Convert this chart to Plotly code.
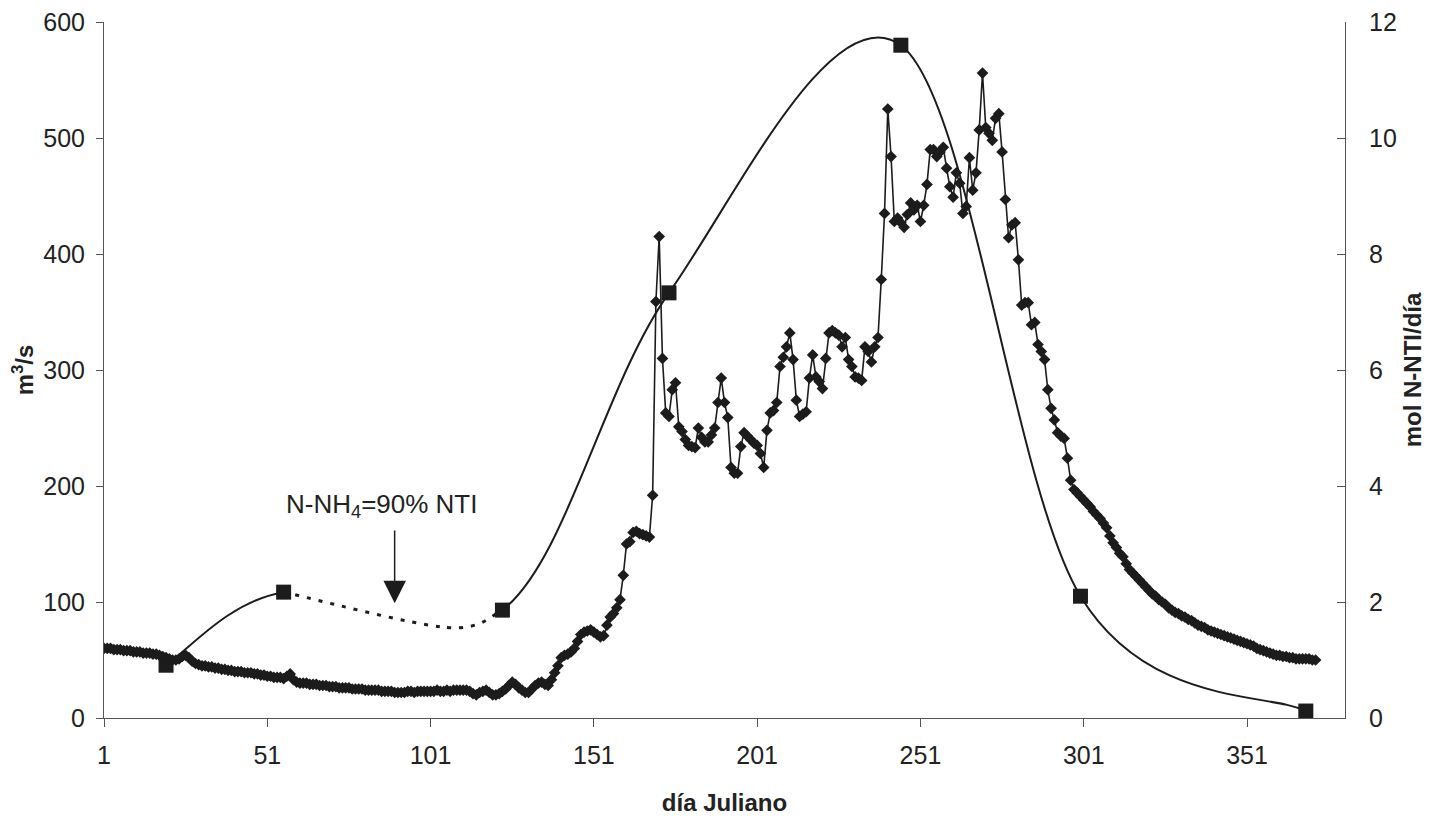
import plotly.graph_objects as go

# ---------------- data ----------------
dias = list(range(1, 373))  # día Juliano of each daily discharge value

caudal = [  # m3/s, daily discharge
    60, 60, 60, 59, 59, 59, 58, 58, 58, 57,
    57, 57, 56, 56, 56, 55, 55, 54, 53, 52,
    51, 50, 50, 51, 53, 54, 52, 49, 47, 46,
    45, 45, 44, 44, 43, 43, 42, 42, 41, 41,
    40, 40, 40, 39, 39, 39, 38, 38, 37, 37,
    36, 36, 35, 35, 35, 34, 36, 38, 33, 31,
    30, 30, 30, 29, 29, 29, 28, 28, 28, 27,
    27, 27, 26, 26, 26, 26, 25, 25, 25, 25,
    24, 24, 24, 24, 24, 23, 23, 23, 23, 22,
    22, 22, 22, 23, 23, 22, 23, 23, 23, 23,
    23, 23, 24, 23, 23, 24, 23, 24, 24, 24,
    24, 24, 23, 21, 20, 22, 23, 24, 22, 20,
    20, 21, 23, 25, 28, 31, 29, 26, 24, 22,
    22, 25, 28, 30, 31, 29, 28, 33, 39, 45,
    52, 54, 55, 57, 60, 66, 72, 74, 75, 76,
    74, 72, 70, 71, 80, 87, 90, 95, 102, 123,
    150, 152, 160, 161, 159, 158, 157, 156, 192, 359,
    415, 310, 263, 260, 283, 289, 251, 247, 240, 235,
    234, 233, 250, 242, 238, 238, 244, 250, 272, 293,
    272, 259, 216, 211, 211, 234, 246, 243, 240, 237,
    235, 228, 216, 248, 263, 265, 272, 303, 311, 320,
    332, 309, 274, 260, 262, 264, 293, 313, 294, 290,
    284, 310, 332, 334, 332, 330, 320, 328, 309, 303,
    294, 293, 291, 320, 316, 307, 320, 328, 378, 435,
    525, 484, 428, 431, 427, 423, 434, 444, 438, 442,
    428, 442, 460, 490, 490, 484, 488, 492, 474, 458,
    449, 470, 461, 435, 441, 483, 455, 470, 507, 556,
    509, 504, 498, 517, 521, 488, 447, 414, 425, 427,
    395, 356, 358, 358, 339, 341, 322, 316, 309, 283,
    267, 257, 246, 243, 241, 224, 205, 197, 194, 191,
    188, 185, 182, 178, 175, 172, 168, 164, 157, 151,
    147, 142, 139, 133, 128, 125, 122, 119, 116, 113,
    110, 107, 105, 102, 100, 98, 95, 93, 91, 90,
    88, 87, 85, 84, 82, 80, 79, 78, 76, 75,
    74, 73, 72, 71, 70, 69, 68, 67, 66, 65,
    64, 63, 62, 60, 59, 58, 57, 56, 55, 54,
    54, 53, 53, 52, 52, 51, 51, 51, 51, 51,
    50, 50,
]

nti_dias = [20, 56, 123, 174, 245, 300, 369]          # sampling days
nti_vals = [0.91, 2.17, 1.86, 7.33, 11.6, 2.1, 0.12]  # mol N-NTI/día

# estimated low point of the dotted (N-NH4 = 90% NTI) stretch
dip_dia = 106
dip_val = 1.56

x_ticks = [1, 51, 101, 151, 201, 251, 301, 351]


# ---------------- smoothed line (Catmull-Rom / Excel-style Bezier) ----------------
def bezier_segments(xs, ys):
    """Return one SVG 'M..C..' string per segment of a smoothed line through xs, ys."""
    n = len(xs)
    segs = []
    for i in range(n - 1):
        x0, y0 = (xs[i - 1], ys[i - 1]) if i > 0 else (xs[i], ys[i])
        x1, y1 = xs[i], ys[i]
        x2, y2 = xs[i + 1], ys[i + 1]
        x3, y3 = (xs[i + 2], ys[i + 2]) if i + 2 < n else (x2, y2)
        c1x, c1y = x1 + (x2 - x0) / 6, y1 + (y2 - y0) / 6
        c2x, c2y = x2 - (x3 - x1) / 6, y2 - (y3 - y1) / 6
        segs.append(f"M {x1},{y1} C {c1x},{c1y} {c2x},{c2y} {x2},{y2}")
    return segs


INK = "#1c1c1c"
FONT = "Liberation Sans, Arial, sans-serif"

solid_segs = bezier_segments(nti_dias, nti_vals)
solid_path = " ".join([solid_segs[0]] + solid_segs[2:])   # S2->S3 drawn dotted instead
dotted_path = " ".join(bezier_segments([nti_dias[1], dip_dia, nti_dias[2]],
                                       [nti_vals[1], dip_val, nti_vals[2]]))

# ---------------- figure ----------------
fig = go.Figure()

fig.add_trace(go.Scatter(
    x=dias, y=caudal, mode="lines+markers",
    line=dict(color=INK, width=1.6),
    marker=dict(symbol="diamond", size=9, color=INK),
    yaxis="y", showlegend=False, name="caudal"))

fig.add_trace(go.Scatter(
    x=nti_dias, y=nti_vals, mode="markers",
    marker=dict(symbol="square", size=15, color=INK),
    yaxis="y2", showlegend=False, name="NTI"))

axis_common = dict(
    showline=True, linecolor="#555", linewidth=1,
    showgrid=False, zeroline=False,
    tickcolor="#555", tickfont=dict(family=FONT, size=25, color="#222"),
)

TITLE_FONT = dict(family=FONT, size=24, color="#222")

fig.update_layout(
    width=1433, height=826,
    margin=dict(l=104, r=88, t=22, b=108),
    paper_bgcolor="white", plot_bgcolor="white",
    font=dict(family=FONT, color="#222"),
    xaxis=dict(
        range=[1, 381], tickmode="array", tickvals=x_ticks,
        ticktext=[str(v) for v in x_ticks],
        ticks="outside", ticklen=8, ticklabelstandoff=7,
        title=dict(text="<b>día Juliano</b>", font=TITLE_FONT, standoff=26),
        automargin=False,
        **axis_common),
    yaxis=dict(
        range=[0, 600], dtick=100, ticks="outside", ticklen=7,
        ticklabelstandoff=6,
        title=dict(text="<b>m<sup>3</sup>/s</b>", font=TITLE_FONT, standoff=2),
        automargin=False,
        **axis_common),
    yaxis2=dict(
        range=[0, 12], dtick=2, overlaying="y", side="right",
        ticks="inside", ticklen=8, ticklabelstandoff=18,
        title=dict(text="<b>mol N-NTI/día</b>", font=TITLE_FONT, standoff=8),
        automargin=False,
        **axis_common),
    shapes=[
        dict(type="path", path=solid_path, xref="x", yref="y2", layer="below",
             line=dict(color=INK, width=2)),
        dict(type="path", path=dotted_path, xref="x", yref="y2", layer="below",
             line=dict(color=INK, width=3, dash="4px,8px")),
    ],
    annotations=[
        dict(x=86, y=183, xref="x", yref="y", text="N-NH<sub>4</sub>=90% NTI",
             showarrow=False, font=dict(family=FONT, size=26, color="#222")),
        dict(x=90, y=99, xref="x", yref="y", ax=90, ay=163, axref="x", ayref="y",
             text="", showarrow=True, arrowhead=2, arrowsize=3, arrowwidth=1.5,
             arrowcolor=INK),
    ],
)

fig.write_html("out.html")
